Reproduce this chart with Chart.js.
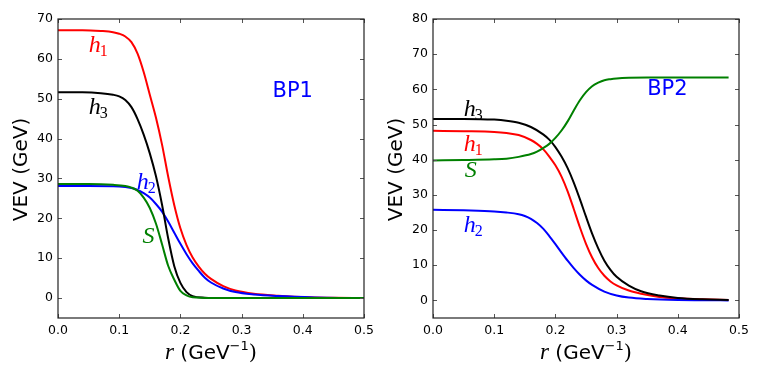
<!DOCTYPE html>
<html>
<head>
<meta charset="utf-8">
<script src="https://cdn.jsdelivr.net/npm/chart.js@4.4.1/dist/chart.umd.min.js"></script>
<style>
  html, body { margin: 0; padding: 0; background: #fff; }
  #wrap { position: relative; width: 763px; height: 382px; }
  #c1 { position: absolute; left: 0; top: 0; }
  #c2 { position: absolute; left: 380px; top: 0; }
</style>
</head>
<body>
<div id="wrap">
  <canvas id="c1" width="380" height="382"></canvas>
  <canvas id="c2" width="383" height="382"></canvas>
</div>
<script>
// ticks
const xTicks = [0, 0.1, 0.2, 0.3, 0.4, 0.5];
const yTicksBP1 = [0, 10, 20, 30, 40, 50, 60, 70];
const yTicksBP2 = [0, 10, 20, 30, 40, 50, 60, 70, 80];

// BP1 (left panel)
const rH1BP1 = [0, 0.04, 0.07, 0.09, 0.1, 0.11, 0.12, 0.13, 0.14, 0.15, 0.16, 0.17, 0.18, 0.19, 0.2, 0.21, 0.22, 0.23, 0.24, 0.25, 0.27, 0.29, 0.32, 0.36, 0.41, 0.45, 0.5];
const vH1BP1 = [67.2, 67.2, 67.0, 66.7, 66.3, 65.6, 64.2, 61.3, 56.7, 51.0, 45.3, 38.5, 30.5, 23.3, 17.5, 13.3, 10.2, 7.9, 6.1, 4.8, 3.0, 1.9, 1.1, 0.6, 0.2, 0.05, 0];
const rH2BP1 = [0, 0.05, 0.1, 0.12, 0.13, 0.14, 0.15, 0.16, 0.17, 0.18, 0.19, 0.2, 0.21, 0.22, 0.23, 0.24, 0.25, 0.27, 0.29, 0.32, 0.36, 0.42, 0.46, 0.5];
const vH2BP1 = [28.1, 28.1, 28.0, 27.6, 27.1, 26.3, 25.2, 23.6, 21.7, 19.2, 16.4, 13.6, 11.0, 8.7, 6.8, 5.1, 3.9, 2.4, 1.5, 0.9, 0.5, 0.15, 0.03, 0];
const rH3BP1 = [0, 0.04, 0.07, 0.09, 0.1, 0.11, 0.12, 0.13, 0.14, 0.15, 0.16, 0.17, 0.18, 0.19, 0.2, 0.21, 0.22, 0.24, 0.27, 0.5];
const vH3BP1 = [51.6, 51.6, 51.4, 51.0, 50.6, 49.7, 47.9, 44.9, 41.0, 36.3, 30.6, 23.4, 15.0, 8.0, 3.8, 1.5, 0.5, 0.1, 0, 0];
const rSBP1 = [0, 0.05, 0.09, 0.11, 0.12, 0.13, 0.14, 0.15, 0.16, 0.17, 0.18, 0.19, 0.2, 0.21, 0.22, 0.25, 0.5];
const vSBP1 = [28.6, 28.6, 28.4, 28.1, 27.7, 26.9, 25.2, 22.6, 18.7, 13.5, 8.1, 4.6, 1.8, 0.7, 0.2, 0, 0];

// BP2 (right panel)
const rH1BP2 = [0, 0.05, 0.1, 0.12, 0.14, 0.16, 0.17, 0.18, 0.19, 0.2, 0.21, 0.22, 0.23, 0.24, 0.25, 0.26, 0.27, 0.28, 0.29, 0.3, 0.32, 0.34, 0.37, 0.4, 0.44, 0.483];
const vH1BP2 = [48.2, 48.1, 47.9, 47.6, 47.0, 45.6, 44.5, 43.0, 40.9, 38.4, 35.2, 31.0, 26.0, 20.8, 16.1, 12.2, 9.2, 7.0, 5.4, 4.3, 2.8, 1.9, 1.0, 0.6, 0.3, 0.1];
const rH2BP2 = [0, 0.05, 0.1, 0.12, 0.14, 0.15, 0.16, 0.17, 0.18, 0.19, 0.2, 0.21, 0.22, 0.23, 0.24, 0.25, 0.26, 0.28, 0.3, 0.32, 0.35, 0.4, 0.44, 0.483];
const vH2BP2 = [25.8, 25.6, 25.3, 25.0, 24.5, 24.0, 23.2, 22.0, 20.4, 18.3, 16.0, 13.6, 11.3, 9.2, 7.3, 5.7, 4.4, 2.5, 1.4, 0.8, 0.4, 0.1, 0.05, 0];
const rH3BP2 = [0, 0.05, 0.1, 0.12, 0.14, 0.16, 0.18, 0.19, 0.2, 0.21, 0.22, 0.23, 0.24, 0.25, 0.26, 0.27, 0.28, 0.29, 0.3, 0.32, 0.34, 0.37, 0.4, 0.44, 0.483];
const vH3BP2 = [51.6, 51.6, 51.4, 51.1, 50.5, 49.3, 47.2, 45.7, 43.6, 40.9, 37.6, 33.5, 28.8, 23.8, 19.0, 14.8, 11.3, 8.7, 6.7, 4.2, 2.6, 1.4, 0.7, 0.3, 0.1];
const rSBP2 = [0, 0.05, 0.1, 0.12, 0.14, 0.16, 0.17, 0.18, 0.19, 0.2, 0.21, 0.22, 0.23, 0.24, 0.25, 0.26, 0.27, 0.28, 0.29, 0.3, 0.32, 0.35, 0.4, 0.483];
const vSBP2 = [39.8, 39.9, 40.1, 40.3, 40.8, 41.6, 42.3, 43.3, 44.5, 46.2, 48.3, 50.9, 54.0, 56.9, 59.2, 60.9, 61.9, 62.6, 62.9, 63.1, 63.3, 63.4, 63.4, 63.4];

const COLORS = { h1: "#ff0000", h2: "#0000ff", h3: "#000000", S: "#008000" };

function serie(xs, ys, color) {
  return {
    data: xs.map((x, i) => ({ x, y: ys[i] })),
    borderColor: color,
    borderWidth: 2,
    pointRadius: 0,
    fill: false,
    cubicInterpolationMode: "monotone"
  };
}

// frame, inward ticks, titles and the math labels
const framePlugin = {
  id: "framePlugin",
  afterDraw(chart) {
    const cfg = chart.options.plugins.framePlugin;
    const { ctx, chartArea: a, scales } = chart;
    const xs = scales.x, ys = scales.y;
    ctx.save();

    ctx.strokeStyle = "#555";
    ctx.lineWidth = 1;
    ctx.beginPath();
    xs.ticks.forEach((t) => {
      const px = Math.round(xs.getPixelForValue(t.value)) + 0.5;
      ctx.moveTo(px, a.bottom); ctx.lineTo(px, a.bottom - 4);
      ctx.moveTo(px, a.top); ctx.lineTo(px, a.top + 4);
    });
    ys.ticks.forEach((t) => {
      const py = Math.round(ys.getPixelForValue(t.value)) + 0.5;
      ctx.moveTo(a.left, py); ctx.lineTo(a.left + 4, py);
      ctx.moveTo(a.right, py); ctx.lineTo(a.right - 4, py);
    });
    ctx.stroke();

    ctx.strokeStyle = "#222";
    ctx.lineWidth = 1.2;
    ctx.strokeRect(a.left, a.top, a.right - a.left, a.bottom - a.top);

    // y title
    ctx.fillStyle = "#000";
    ctx.font = "20px 'DejaVu Sans'";
    ctx.textAlign = "center";
    ctx.textBaseline = "middle";
    ctx.save();
    ctx.translate(cfg.yTitleX, (a.top + a.bottom) / 2 + 1);
    ctx.rotate(-Math.PI / 2);
    ctx.fillText("VEV (GeV)", 0, 0);
    ctx.restore();

    // x title: r (GeV^-1)
    const parts = [
      { t: "r", f: "italic 23px 'Liberation Serif'", dy: 0 },
      { t: " (GeV", f: "20px 'DejaVu Sans'", dy: 0 },
      { t: "\u22121", f: "13px 'DejaVu Sans'", dy: -9 },
      { t: ")", f: "21px 'DejaVu Serif'", dy: 0 }
    ];
    let total = 0;
    parts.forEach((p) => { ctx.font = p.f; p.w = ctx.measureText(p.t).width; total += p.w; });
    let x0 = (a.left + a.right) / 2 - total / 2;
    ctx.textAlign = "left";
    ctx.textBaseline = "alphabetic";
    parts.forEach((p) => { ctx.font = p.f; ctx.fillText(p.t, x0, 359 + p.dy); x0 += p.w; });

    // curve labels
    cfg.labels.forEach((l) => {
      const cx = xs.getPixelForValue(l.r);
      const cy = ys.getPixelForValue(l.v);
      ctx.fillStyle = l.color;
      if (l.big) {
        ctx.font = "21px 'DejaVu Sans'";
        ctx.textAlign = "center";
        ctx.textBaseline = "middle";
        ctx.fillText(l.text, cx, cy);
        return;
      }
      ctx.font = "italic 24px 'Liberation Serif'";
      const w1 = ctx.measureText(l.text).width;
      ctx.font = "16px 'Liberation Serif'";
      const w2 = l.sub ? ctx.measureText(l.sub).width : 0;
      const left = cx - (w1 + w2) / 2;
      ctx.textAlign = "left";
      ctx.textBaseline = "alphabetic";
      ctx.font = "italic 24px 'Liberation Serif'";
      ctx.fillText(l.text, left, cy + 6);
      if (l.sub) {
        ctx.font = "16px 'Liberation Serif'";
        ctx.fillText(l.sub, left + w1 - 1, cy + 10);
      }
    });
    ctx.restore();
  }
};

function makeChart(id, datasets, yMin, yMax, yTicks, yAxisWidth, padRight, yTitleX, labels) {
  return new Chart(document.getElementById(id), {
    type: "line",
    data: { datasets },
    options: {
      responsive: false,
      animation: false,
      layout: { padding: { left: 0, right: padRight, top: 19, bottom: 24 } },
      plugins: {
        legend: { display: false },
        tooltip: { enabled: false },
        framePlugin: { yTitleX, labels }
      },
      scales: {
        x: {
          type: "linear",
          min: 0,
          max: 0.5,
          afterBuildTicks: (s) => { s.ticks = xTicks.map((v) => ({ value: v })); },
          afterFit: (s) => { s.height = 40; },
          grid: { display: false, drawTicks: false },
          border: { display: false },
          ticks: {
            padding: 5,
            color: "#000",
            font: { family: "DejaVu Sans", size: 12.5 },
            callback: (v) => Number(v).toFixed(1),
            maxRotation: 0
          }
        },
        y: {
          type: "linear",
          min: yMin,
          max: yMax,
          afterBuildTicks: (s) => { s.ticks = yTicks.map((v) => ({ value: v })); },
          afterFit: (s) => { s.width = yAxisWidth; },
          grid: { display: false, drawTicks: false },
          border: { display: false },
          ticks: {
            padding: 5,
            color: "#000",
            font: { family: "DejaVu Sans", size: 12.5 }
          }
        }
      }
    },
    plugins: [framePlugin]
  });
}

makeChart("c1", [
  serie(rSBP1, vSBP1, COLORS.S),
  serie(rH3BP1, vH3BP1, COLORS.h3),
  serie(rH2BP1, vH2BP1, COLORS.h2),
  serie(rH1BP1, vH1BP1, COLORS.h1)
], -5, 70, yTicksBP1, 58, 16, 22, [
  { text: "h", sub: "1", r: 0.0665, v: 63.2, color: COLORS.h1 },
  { text: "h", sub: "3", r: 0.0665, v: 47.6, color: COLORS.h3 },
  { text: "h", sub: "2", r: 0.145, v: 28.8, color: COLORS.h2 },
  { text: "S", r: 0.148, v: 15.3, color: COLORS.S },
  { text: "BP1", big: true, r: 0.3835, v: 51.9, color: COLORS.h2 }
]);

makeChart("c2", [
  serie(rSBP2, vSBP2, COLORS.S),
  serie(rH3BP2, vH3BP2, COLORS.h3),
  serie(rH2BP2, vH2BP2, COLORS.h2),
  serie(rH1BP2, vH1BP2, COLORS.h1)
], -5, 80, yTicksBP2, 53, 24, 17, [
  { text: "h", sub: "3", r: 0.0666, v: 54.2, color: COLORS.h3 },
  { text: "h", sub: "1", r: 0.0666, v: 44.3, color: COLORS.h1 },
  { text: "S", r: 0.0617, v: 36.9, color: COLORS.S },
  { text: "h", sub: "2", r: 0.0666, v: 21.2, color: COLORS.h2 },
  { text: "BP2", big: true, r: 0.383, v: 59.9, color: COLORS.h2 }
]);
</script>
</body>
</html>
